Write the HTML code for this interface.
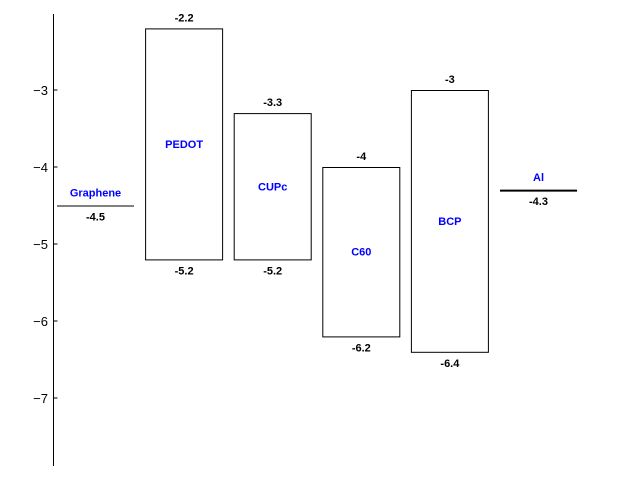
<!DOCTYPE html>
<html><head><meta charset="utf-8"><style>
body{margin:0;background:#fff}
svg{display:block;font-family:"Liberation Sans","DejaVu Sans",sans-serif}
</style></head><body>
<svg id="chart" width="640" height="480" viewBox="0 0 640 480"></svg>
<script>
const names=["Graphene","PEDOT","CUPc","C60","BCP","Al"];
const tops=[-4.5,-2.2,-3.3,-4,-3,-4.3];
const bottoms=[-4.5,-5.2,-5.2,-6.2,-6.4,-4.3];
const yTicks=[-3,-4,-5,-6,-7];
const yTickLabels=["\u22123","\u22124","\u22125","\u22126","\u22127"];
const svg=document.getElementById('chart');
const NS='http://www.w3.org/2000/svg';
function y(v){return 90+(-3-v)*77;}
function xc(i){return 95.5+i*88.6;}
const W=77;
function mk(tag,attrs,parent){const e=document.createElementNS(NS,tag);for(const k in attrs)e.setAttribute(k,attrs[k]);(parent||svg).appendChild(e);return e;}
const axis=mk('line',{x1:53.5,y1:14,x2:53.5,y2:466,stroke:'#000','stroke-width':1});


yTicks.forEach((t,i)=>{
  const tk=mk('line',{x1:53.5,y1:y(t),x2:57.5,y2:y(t),stroke:'#000'});
  
  
  const tl=mk('text',{x:48,y:y(t)+5,'text-anchor':'end','font-size':13});
  tl.textContent=yTickLabels[i];
  
  
});
names.forEach((n,i)=>{
  const cx=xc(i), t=tops[i], b=bottoms[i];
  const g=mk('g',{});
  
  
  if(t===b){
    const thick=(i===names.length-1)?2:1;
    mk('line',{x1:cx-W/2,x2:cx+W/2,y1:y(t)+0.5,y2:y(t)+0.5,stroke:'#000','stroke-width':thick},g);
    const nl=mk('text',{x:cx,y:y(t)-9,'text-anchor':'middle','font-size':11,'font-weight':'bold',fill:'#0000ff'},g);
    nl.textContent=n;
    const vl=mk('text',{x:cx,y:y(t)+15,'text-anchor':'middle','font-size':11,'font-weight':'bold'},g);
    vl.textContent=String(t);
  } else {
    mk('rect',{x:cx-W/2,y:y(t)+0.5,width:W,height:y(b)-y(t),fill:'none',stroke:'#000','stroke-width':1},g);
    const tl=mk('text',{x:cx,y:y(t)-7,'text-anchor':'middle','font-size':11,'font-weight':'bold'},g);
    tl.textContent=String(t);
    const bl=mk('text',{x:cx,y:y(b)+15,'text-anchor':'middle','font-size':11,'font-weight':'bold'},g);
    bl.textContent=String(b);
    const nl=mk('text',{x:cx,y:(y(t)+y(b))/2+4,'text-anchor':'middle','font-size':11,'font-weight':'bold',fill:'#0000ff'},g);
    nl.textContent=n;
  }
});
</script>
</body></html>
